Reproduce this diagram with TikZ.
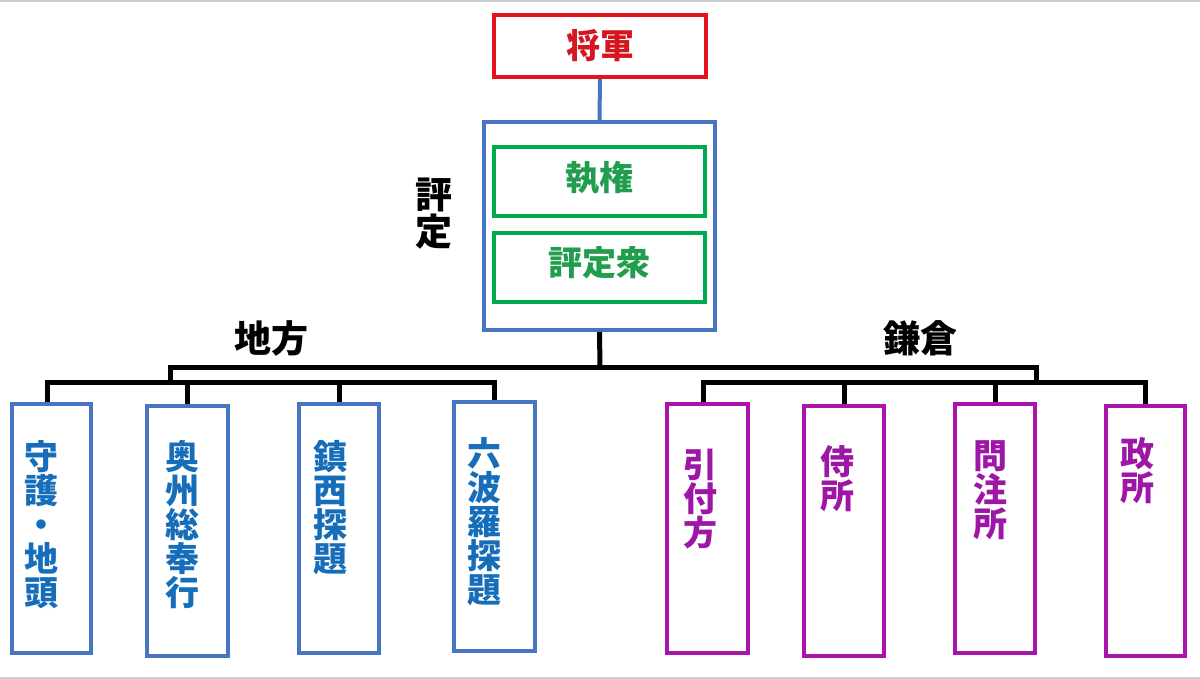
\documentclass[tikz,border=0pt]{standalone}
\usepackage{fontspec}
\setmainfont{Noto Sans CJK JP}
\definecolor{cRed}{RGB}{228,18,28}
\definecolor{cRedT}{RGB}{212,22,32}
\definecolor{cBlue}{RGB}{72,116,196}
\definecolor{cBlueT}{RGB}{22,110,186}
\definecolor{cGreen}{RGB}{0,170,80}
\definecolor{cGreenT}{RGB}{32,158,78}
\definecolor{cPurp}{RGB}{170,20,172}
\definecolor{cPurpT}{RGB}{158,22,166}
\definecolor{cFrame}{RGB}{205,205,205}
\tikzset{
  box/.style={draw, line width=4pt, inner sep=0pt, fill=white},
  redbox/.style={box, draw=cRed, minimum width=212pt, minimum height=62pt},
  bigbox/.style={box, draw=cBlue, minimum width=231pt, minimum height=208pt},
  greenbox/.style={box, draw=cGreen, minimum width=211pt, minimum height=69pt},
  chibox/.style={box, draw=cBlue, minimum width=80pt, minimum height=249pt},
  kambox/.style={box, draw=cPurp, minimum width=81pt, minimum height=250pt},
  htext/.style={font=\bfseries\fontsize{34}{34}\selectfont, inner sep=0pt},
  vtext/.style={font=\bfseries\fontsize{34}{34}\selectfont, inner sep=0pt, align=center, anchor=north},
  lbl/.style={font=\bfseries\fontsize{37}{37}\selectfont, inner sep=0pt, text=black},
  conn/.style={line width=5pt, black},
}
\begin{document}
\begin{tikzpicture}[x=1pt,y=-1pt]
\useasboundingbox (0,0) rectangle (1200,679);
\fill[white] (0,0) rectangle (1200,679);
\fill[cFrame] (0,0) rectangle (1200,2.5);
\fill[cFrame] (0,676.5) rectangle (1200,679);

% top structure
\node[redbox] (shogun) at (600,46) {};
\node[htext, text=cRedT] (tshogun) at (600,46) {将軍};
\node[bigbox] (hyojo) at (599.5,226) {};
\node[greenbox] (shikken) at (599.5,181.5) {};
\node[htext, text=cGreenT] (tshikken) at (599.5,178) {執権};
\node[greenbox] (shu) at (599.5,267.5) {};
\node[htext, text=cGreenT] (tshu) at (599.5,263) {評定衆};
\node[lbl, align=center, font=\bfseries\fontsize{37}{37}\selectfont] (lhyojo) at (434,214) {評\\定};
\draw[line width=4pt, cBlue] (shogun.south) -- (hyojo.north);

% labels
\node[lbl] (lchiho) at (271,338) {地方};
\node[lbl] (lkama) at (920,338) {鎌倉};

% bottom boxes
\node[chibox, minimum width=79pt] (b1) at (51.5,528.5) {};
\node[chibox, minimum width=81pt, minimum height=250pt] (b2) at (187.5,531) {};
\node[chibox] (b3) at (339,528.5) {};
\node[chibox, minimum width=81pt] (b4) at (494.5,526.5) {};
\node[kambox, minimum height=249pt] (b5) at (707.5,528.5) {};
\node[kambox, minimum width=80pt] (b6) at (844,531) {};
\node[kambox, minimum width=80pt, minimum height=249pt] (b7) at (995,528.5) {};
\node[kambox, minimum width=79pt] (b8) at (1145.5,531) {};

\node[vtext, text=cBlueT] (t1) at (41,440) {守\\護\\・\\地\\頭};
\node[vtext, text=cBlueT] (t2) at (182,440) {奥\\州\\総\\奉\\行};
\node[vtext, text=cBlueT] (t3) at (330,440) {鎮\\西\\探\\題};
\node[vtext, text=cBlueT] (t4) at (484,437) {六\\波\\羅\\探\\題};
\node[vtext, text=cPurpT] (t5) at (700,449) {引\\付\\方};
\node[vtext, text=cPurpT] (t6) at (837,445) {侍\\所};
\node[vtext, text=cPurpT] (t7) at (990,440) {問\\注\\所};
\node[vtext, text=cPurpT] (t8) at (1137,437) {政\\所};

% connectors
\coordinate (hub) at (600,367);
\coordinate (lup) at (170,367);
\coordinate (rup) at (1036,367);
\coordinate (llow) at (170,382);
\coordinate (rlow) at (1036,382);
\draw[conn] (hyojo.south) -- (hub);
\draw[conn, line cap=rect] (lup) -- (rup);
\draw[conn] (lup) -- (llow);
\draw[conn] (rup) -- (rlow);
\draw[conn, line cap=rect] ([xshift=-4.5pt]b1.north |- llow) -- (b4.north |- llow);
\draw[conn, line cap=rect] ([xshift=-4.5pt]b5.north |- rlow) -- (b8.north |- rlow);
\draw[conn] ([xshift=-4.5pt]b1.north |- llow) -- ([xshift=-4.5pt]b1.north);
\draw[conn] (b2.north |- llow) -- (b2.north);
\draw[conn] (b3.north |- llow) -- (b3.north);
\draw[conn] (b4.north |- llow) -- (b4.north);
\draw[conn] ([xshift=-4.5pt]b5.north |- rlow) -- ([xshift=-4.5pt]b5.north);
\draw[conn] (b6.north |- rlow) -- (b6.north);
\draw[conn] (b7.north |- rlow) -- (b7.north);
\draw[conn] (b8.north |- rlow) -- (b8.north);
\end{tikzpicture}
\end{document}
